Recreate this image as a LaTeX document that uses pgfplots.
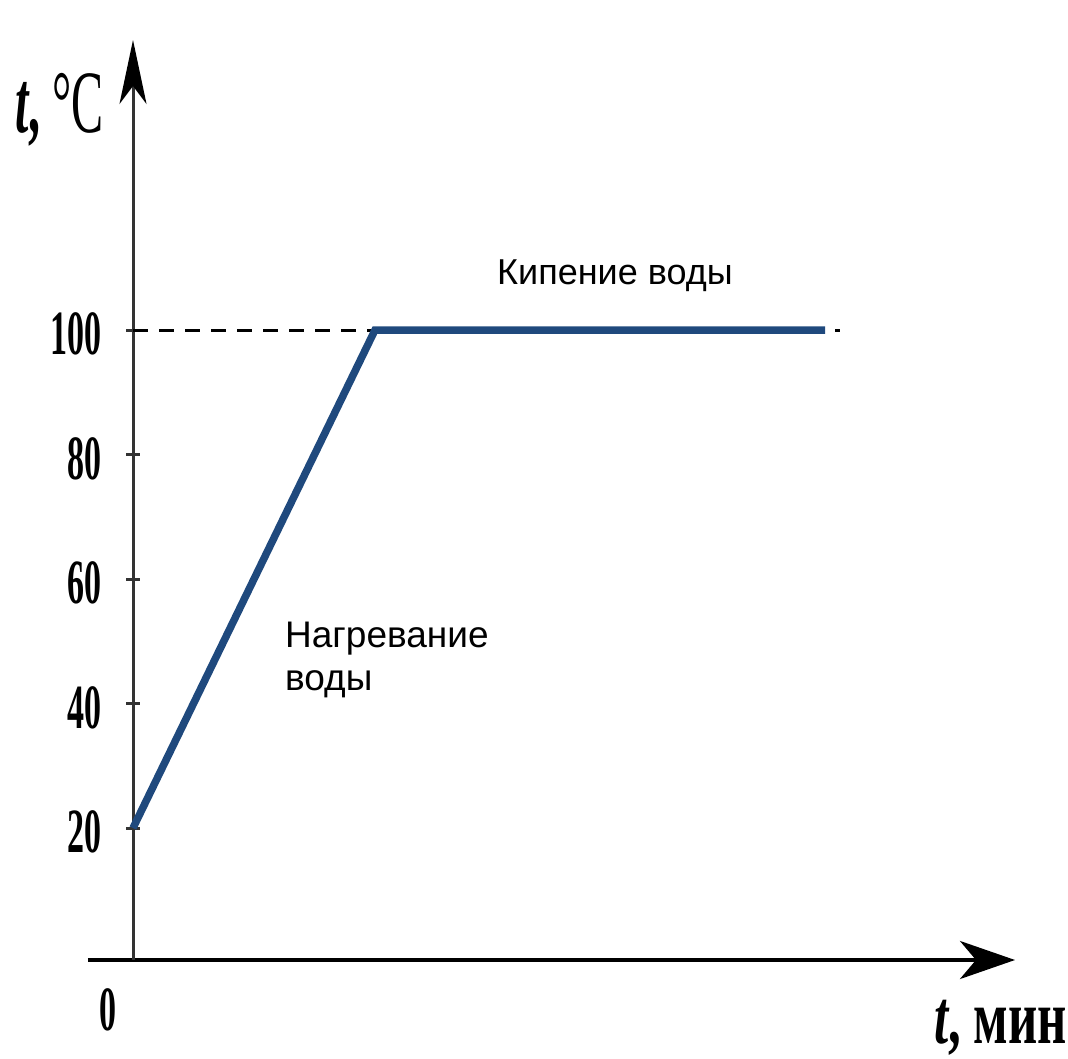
\documentclass[border=0pt]{standalone}
\usepackage{fontspec}
\setmainfont{Liberation Sans}
\newfontfamily\tnra[FakeStretch=0.54]{Liberation Serif}
\newfontfamily\tnrb[FakeStretch=0.66]{Liberation Serif}
\usepackage{pgfplots}
\pgfplotsset{compat=1.18}
\usetikzlibrary{arrows.meta}
\definecolor{lineblue}{RGB}{31,73,125}

\begin{document}
\begin{tikzpicture}
\begin{axis}[
  scale only axis,
  width=927pt, height=920pt,
  xmin=-1.86, xmax=36.45,
  ymin=-1.2, ymax=146.6,
  axis x line=bottom,
  axis y line=middle,
  x axis line style={line width=4pt, black, -{Stealth[length=55pt,width=38pt,inset=16pt]}},
  y axis line style={line width=3pt, black!80, -{Stealth[length=64pt,width=27pt,inset=18pt,color=black]}},
  xtick=\empty,
  ytick={20,40,60,80,100},
  tick align=center,
  major tick length=14pt,
  major tick style={line width=3pt, black!80},
  yticklabel style={font=\tnra\bfseries\fontsize{63}{63}\selectfont, anchor=east, inner sep=0pt, xshift=-24pt, yshift=-4pt},
  /pgf/number format/assume math mode=true,
  clip=false,
]
% 100 degrees reference line
\addplot[black, line width=3pt, dash pattern=on 15pt off 11pt] coordinates {(0,100) (29.2,100)};
% heating, then boiling
\addplot[lineblue, line width=7.5pt] coordinates {(0,20) (10,100) (28.6,100)};
\end{axis}
\node[anchor=base west, inner sep=0pt, font=\fontsize{36}{36}\selectfont] at (409pt,675pt) {Кипение воды};
\node[anchor=base west, inner sep=0pt, font=\fontsize{37}{37}\selectfont] at (197pt,312pt) {Нагревание};
\node[anchor=base west, inner sep=0pt, font=\fontsize{37}{37}\selectfont] at (197pt,269pt) {воды};
\node[anchor=base, inner sep=0pt, font=\tnra\bfseries\fontsize{63}{63}\selectfont] at (20pt,-70pt) {0};
\node[anchor=base west, inner sep=0pt, font=\tnra\fontsize{89}{89}\selectfont] at (-73pt,827pt) {\textbf{\textit{t},}~°C};
\node[anchor=base west, inner sep=0pt, font=\tnrb\bfseries\fontsize{77}{77}\selectfont] at (846pt,-83pt) {\textit{t}, мин};
\pgfresetboundingbox
\path[use as bounding box] (-88pt,-98pt) rectangle (980pt,960pt);
\end{tikzpicture}
\end{document}
